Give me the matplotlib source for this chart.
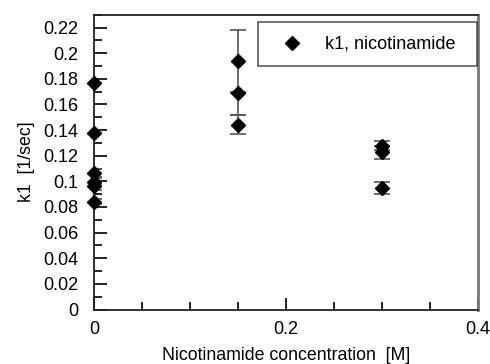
import matplotlib.pyplot as plt
from matplotlib.ticker import MultipleLocator, FormatStrFormatter

plt.rcParams['font.family'] = ['Liberation Sans', 'DejaVu Sans']

# k1 values
conc = [0, 0, 0, 0, 0, 0, 0.15, 0.15, 0.15, 0.3, 0.3, 0.3]
k1 = [0.1767, 0.1377, 0.1064, 0.0998, 0.0960, 0.0842,
      0.1936, 0.1686, 0.1441, 0.1277, 0.1225, 0.0947]
k1_err_low = [0.0, 0.0, 0.003, 0.003, 0.003, 0.002,
              0.024, 0.0172, 0.0075, 0.0034, 0.005, 0.0045]
k1_err_high = [0.0, 0.0, 0.003, 0.003, 0.003, 0.002,
               0.0242, 0.0, 0.0075, 0.0034, 0.005, 0.0045]

fig = plt.figure(figsize=(4.9, 3.64), dpi=100)
ax = fig.add_axes([94 / 490, 1 - 309.5 / 364, 384 / 490, 294.8 / 364])

ax.errorbar(conc, k1, yerr=[k1_err_low, k1_err_high], fmt='none',
            ecolor='#555555', elinewidth=1.2, capsize=6, capthick=1.2, zorder=2)
ax.plot(conc, k1, 'D', color='black', markersize=7.5, zorder=3,
        label='k1, nicotinamide', clip_on=False)

ax.set_xlim(0, 0.4)
ax.set_ylim(0, 0.23)
ax.xaxis.set_major_locator(MultipleLocator(0.2))
ax.xaxis.set_minor_locator(MultipleLocator(0.05))
ax.yaxis.set_major_locator(MultipleLocator(0.02))
ax.yaxis.set_minor_locator(MultipleLocator(0.01))
ax.yaxis.set_major_formatter(FormatStrFormatter('%g'))
ax.xaxis.set_major_formatter(FormatStrFormatter('%g'))
ax.tick_params(which='both', direction='in', top=False, right=False,
               labelsize=13, width=1.2)
ax.tick_params(which='major', length=9)
ax.tick_params(which='minor', length=6)
ax.tick_params(axis='y', which='major', pad=11.5)
ax.tick_params(axis='x', which='major', pad=8)

for side in ['left', 'bottom', 'top']:
    ax.spines[side].set_linewidth(1.3)
    ax.spines[side].set_color('#222222')
ax.spines['right'].set_color('#777777')
ax.spines['right'].set_linewidth(2)

ax.set_xlabel('Nicotinamide concentration  [M]', fontsize=12.75, labelpad=7)
ax.set_ylabel('k1  [1/sec]', fontsize=12.75)
ax.yaxis.set_label_coords((35 - 94) / 384, 0.5)

leg = ax.legend(loc='upper left', bbox_to_anchor=(0.427, 0.0, 0.570, 0.974),
                mode='expand', fontsize=13, frameon=True, fancybox=False,
                borderpad=0.75, handletextpad=0.64, borderaxespad=0,
                handlelength=2.3)
leg.get_frame().set_edgecolor('#333333')
leg.get_frame().set_linewidth(1.2)

fig.savefig('out.png', dpi=100)
